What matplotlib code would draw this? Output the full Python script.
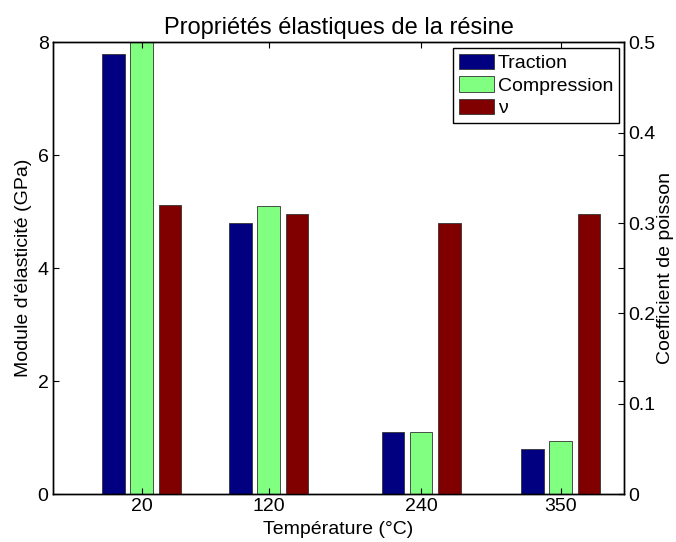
import matplotlib
matplotlib.use('Agg')
import matplotlib.pyplot as plt
import numpy as np

plt.rcParams['font.family'] = ['Liberation Sans', 'DejaVu Sans']

# Données
temperatures = [20, 120, 240, 350]
traction = [7.8, 4.8, 1.1, 0.8]
compression = [8.0, 5.1, 1.1, 0.95]
nu = [0.32, 0.31, 0.30, 0.31]
series_labels = ['Traction', 'Compression', 'ν']
left_ticks = [0, 2, 4, 6, 8]
right_ticks = [0, 0.1, 0.2, 0.3, 0.4, 0.5]

colors = [(0, 0, 0.5), (0.5, 1, 0.5), (0.5, 0, 0)]
offset = 22.2
width = 17.8
x = np.array(temperatures)

fig = plt.figure(figsize=(6.76, 5.42), dpi=100)
ax = fig.add_axes([0.078, 0.088, 0.8455, 0.834])
ax2 = ax.twinx()

b1 = ax.bar(x - offset, traction, width, color=colors[0], edgecolor='#333333', linewidth=0.6)
b2 = ax.bar(x, compression, width, color=colors[1], edgecolor='#333333', linewidth=0.6)
b3 = ax2.bar(x + offset, nu, width, color=colors[2], edgecolor='#333333', linewidth=0.6)

ax.set_xlim(-50, 400)
ax.set_ylim(0, 8)
ax2.set_ylim(0, 0.5)

ax.set_xticks(temperatures)
ax.set_xticklabels([str(t) for t in temperatures])
ax.set_yticks(left_ticks)
ax.set_yticklabels([f'{v:g}' for v in left_ticks])
ax2.set_yticks(right_ticks)
ax2.set_yticklabels([f'{v:g}' for v in right_ticks])

for a in (ax, ax2):
    a.tick_params(direction='in', length=4, width=0.8, labelsize=14, pad=3)
    for s in a.spines.values():
        s.set_linewidth(1.0)
ax.tick_params(top=True, right=True)

ax.set_xlabel('Température (°C)', fontsize=14, labelpad=4)
ax.set_ylabel("Module d'élasticité (GPa)", fontsize=14, labelpad=4)
ax2.set_ylabel('Coefficient de poisson', fontsize=14, labelpad=1)
ax.set_title('Propriétés élastiques de la résine', fontsize=17, pad=6)

leg = ax2.legend([b1, b2, b3], series_labels, loc='upper right',
                 bbox_to_anchor=(0.991, 0.987), borderaxespad=0,
                 fontsize=14, fancybox=False, framealpha=1, edgecolor='black',
                 handlelength=1.8, handleheight=0.85, handletextpad=0.2,
                 labelspacing=0.2, borderpad=0.3)
leg.get_frame().set_linewidth(1.0)

fig.savefig('out.png', dpi=100)
